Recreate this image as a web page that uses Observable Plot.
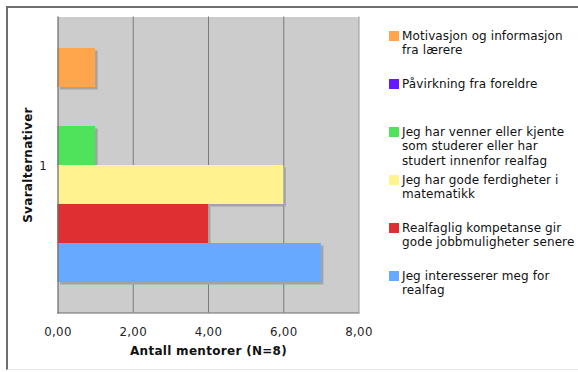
<!DOCTYPE html>
<html>
<head>
<meta charset="utf-8">
<script src="https://cdn.jsdelivr.net/npm/d3@7"></script>
<script src="https://cdn.jsdelivr.net/npm/@observablehq/plot@0.6"></script>
<style>
  html, body { margin: 0; padding: 0; background: #fff; }
  #wrap { position: relative; width: 578px; height: 372px; overflow: hidden; font-family: "DejaVu Sans", Verdana, sans-serif; }
  #frame { position: absolute; left: 6px; top: 6px; width: 572px; height: 364px; border-top: 2px solid #6e6e6e; border-left: 2px solid #6e6e6e; border-bottom: 1px solid #e4e4e4; box-sizing: border-box; }
  #chart { position: absolute; left: 0; top: 0; }
  #legend { position: absolute; left: 0; top: 0; width: 578px; height: 372px; pointer-events: none; }
  .item { position: absolute; left: 389px; font-size: 12px; letter-spacing: 0.1px; line-height: 14.6px; color: #111; }
  .sw { position: absolute; left: 0; width: 10px; height: 10px; }
  .lab { position: absolute; left: 13px; white-space: nowrap; }
  #chart svg text { letter-spacing: 0.3px; }
</style>
</head>
<body>
<div id="wrap">
  <div id="frame"></div>
  <div id="chart"></div>
  <div id="legend"></div>
</div>
<script>
const series = [
  "Motivasjon og informasjon fra lærere",
  "Påvirkning fra foreldre",
  "Jeg har venner eller kjente som studerer eller har studert innenfor realfag",
  "Jeg har gode ferdigheter i matematikk",
  "Realfaglig kompetanse gir gode jobbmuligheter senere",
  "Jeg interesserer meg for realfag"
];
const legendLines = [
  ["Motivasjon og informasjon", "fra lærere"],
  ["Påvirkning fra foreldre"],
  ["Jeg har venner eller kjente", "som studerer eller har", "studert innenfor realfag"],
  ["Jeg har gode ferdigheter i", "matematikk"],
  ["Realfaglig kompetanse gir", "gode jobbmuligheter senere"],
  ["Jeg interesserer meg for", "realfag"]
];
const values = [1, 0, 1, 6, 4, 7];
const colors = ["#ffa64d", "#6619ff", "#4ee35a", "#fff28f", "#df2f33", "#66aaff"];
const xTicks = [0, 2, 4, 6, 8];
const categoryLabel = ["1"];
const xTitle = "Antall mentorer (N=8)";
const yTitle = "Svaralternativer";

const data = series.map((s, i) => ({series: s, value: values[i]}));
const fmt = d => d.toFixed(2).replace(".", ",");

const chart = Plot.plot({
  width: 578,
  height: 372,
  marginLeft: 57.5,
  marginRight: 219.5,
  marginTop: 16.5,
  marginBottom: 59.5,
  style: {fontFamily: "'DejaVu Sans', Verdana, sans-serif", fontSize: "11.8px", color: "#222", background: "transparent"},
  x: {domain: [0, 8], ticks: xTicks, tickFormat: fmt, label: null},
  y: {type: "band", domain: series, paddingInner: 0, paddingOuter: 0.75, axis: null},
  color: {domain: series, range: colors},
  marks: [
    Plot.frame({fill: "#cccccc", stroke: null}),
    Plot.gridX(xTicks.filter(d => d > 0 && d < 8), {stroke: "#7a7a7a", strokeOpacity: 1, strokeWidth: 1}),
    Plot.ruleX([8], {stroke: "#9a9a9a", strokeWidth: 1}),
    Plot.barX(data, {x: "value", y: "series", fill: "#a3a3a3", dx: 2.5, dy: 2.5}),
    Plot.barX(data, {x: "value", y: "series", fill: "series"}),
    Plot.frame({anchor: "left", stroke: "#6a6a6a", strokeWidth: 1.2}),
    Plot.frame({anchor: "bottom", stroke: "#6a6a6a", strokeWidth: 1.2}),
    Plot.axisX({ticks: xTicks, tickFormat: fmt, tickSize: 0, tickPadding: 15, label: null, fill: "#222"}),
    Plot.text(categoryLabel, {frameAnchor: "left", dx: -11, textAnchor: "end", fill: "#222", dy: 1}),
    Plot.text([yTitle], {frameAnchor: "left", textAnchor: "middle", rotate: -90, dx: -30, dy: 0, fontWeight: "bold", fill: "#111", fontSize: 12}),
    Plot.text([xTitle], {frameAnchor: "bottom", textAnchor: "middle", dy: 42, fontWeight: "bold", fill: "#111", fontSize: 12})
  ]
});
document.getElementById("chart").appendChild(chart);

const legend = document.getElementById("legend");
legendLines.forEach((lines, i) => {
  const item = document.createElement("div");
  item.className = "item";
  const firstCenter = 36 + i * 48;
  item.style.top = (firstCenter - 7.3) + "px";
  const sw = document.createElement("div");
  sw.className = "sw";
  sw.style.background = colors[i];
  sw.style.top = "2.3px";
  item.appendChild(sw);
  const lab = document.createElement("div");
  lab.className = "lab";
  lab.innerHTML = lines.map(l => l.replace(/&/g, "&amp;")).join("<br>");
  item.appendChild(lab);
  legend.appendChild(item);
});
</script>
</body>
</html>
